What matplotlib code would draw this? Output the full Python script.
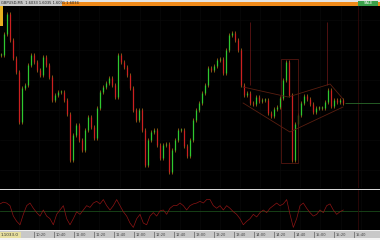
import matplotlib
matplotlib.use("Agg")
import matplotlib.pyplot as plt
import numpy as np
from matplotlib.patches import Rectangle

# closing prices, one per bar (chart points)
close = [145, 166, 186, 160, 142, 128, 78, 112, 115, 135,
         145, 138, 130, 125, 143, 135, 123, 100, 105, 108,
         108, 100, 86, 40, 65, 75, 60, 50, 70, 83,
         73, 62, 92, 108, 113, 117, 122, 115, 103, 145,
         138, 133, 125, 112, 90, 80, 90, 70, 35, 60,
         68, 70, 55, 42, 55, 56, 28, 50, 60, 70,
         70, 54, 44, 60, 80, 90, 97, 107, 115, 132,
         130, 134, 140, 141, 127, 150, 165, 167, 160, 150,
         115, 105, 107, 97, 96, 103, 99, 100, 100, 87,
         84, 91, 93, 102, 120, 138, 105, 40, 76, 85,
         97, 104, 101, 96, 88, 92, 92, 92, 98, 110,
         94, 100, 98, 100, 97]

# oscillator in the lower window
osc = [8, 10, 9, 6, -6, -12, -16, -4, 6, 9, 3, -2, -6, 1, -6, -9, -16, -4, 1, 6,
       -9, -16, -9, -1, -4, 1, 6, 4, 9, 11, 8, 13, 6, 1, 6, 13, 6, -1, -6, -14,
       -19, -9, -4, -14, -16, -6, -2, -6, 0, 1, -4, 3, 6, 6, 9, 6, 1, 6, 8, 9,
       11, 9, 13, 13, 6, 3, 6, 1, 6, 3, -1, -4, -9, -16, -12, -9, -4, -7, -2, 1,
       -2, 3, 6, 9, 6, 8, 13, -4, -19, -9, 6, 9, 3, -2, -6, -4, 1, -2, 6, 8,
       1, -4, -1, 1]

# drawing objects (bar index, price)
wedge_top_x = [80.7, 95.7, 109.7, 114.0]
wedge_top_y = [113, 103, 116, 101]
wedge_bot_x = [80.7, 96.3, 114.0]
wedge_bot_y = [97, 68, 93]
box_x = (93.3, 99.0)
box_y = (37, 141)
vline_x = [83.0, 108.7]
vline_y = (115, 178)
level_x0 = 114.7
level_y = 97
time_labels = ["10:20", "10:40", "11:00", "11:20", "11:40", "12:00", "12:20", "12:40",
               "13:00", "13:20", "13:40", "14:00", "14:20", "14:40", "15:00", "15:20", "15:40"]

W, H = 380, 240
fig = plt.figure(figsize=(W / 100, H / 100), dpi=100, facecolor="black")

def frac(y0, y1):
    return (H - y1) / H, (y1 - y0) / H

b, h = frac(6, 188)
ax = fig.add_axes([0, b, 1, h], facecolor="black")
b, h = frac(190, 230)
ax2 = fig.add_axes([0, b, 1, h], facecolor="black")

xlim = (-1 / 3, 379 / 3)
n = len(close)
x = np.arange(n)
opens = [close[0]] + close[:-1]

for a in (ax, ax2):
    a.set_xlim(*xlim)
    a.axis("off")
    for gx in np.arange(6, 126, 6.7):
        a.axvline(gx, color="#0b0b0b", lw=0.4, zorder=0)

ax.set_ylim(12, 194)
for gy in range(30, 194, 30):
    ax.axhline(gy, color="#0b0b0b", lw=0.4, zorder=0)

for i in range(n):
    o, c = opens[i], close[i]
    lo, hi = min(o, c), max(o, c)
    up = c >= o
    ax.vlines(x[i], lo - 2, hi + 2, color="#b8781c", lw=0.5, zorder=2)
    ax.vlines(x[i], lo, hi if hi > lo else lo + 1,
              color="#2fc82f" if up else "#cc2020", lw=0.9, zorder=3)

ax.plot(wedge_top_x, wedge_top_y, color="#5a1e10", lw=0.6, zorder=4)
ax.plot(wedge_bot_x, wedge_bot_y, color="#5a1e10", lw=0.6, zorder=4)
ax.add_patch(Rectangle((box_x[0], box_y[0]), box_x[1] - box_x[0], box_y[1] - box_y[0],
                       fill=False, ec="#561610", lw=0.6, zorder=4))
for vx in vline_x:
    ax.vlines(vx, vline_y[0], vline_y[1], color="#701818", lw=0.5, zorder=4)
ax.hlines(level_y, level_x0, xlim[1], color="#2a6a2a", lw=0.6, zorder=4)
ax.axvline(119, color="#300808", lw=0.6, zorder=1)

ax2.set_ylim(-22, 24)
ax2.axhline(0, color="#1a4a1a", lw=0.6, zorder=1)
ax2.axvline(119, color="#300808", lw=0.6, zorder=1)
osc_x = np.arange(len(osc)) * 10 / 9 - 1 / 3
ax2.plot(osc_x, osc, color="#8c1414", lw=0.5, zorder=3)

# white separator and frame bars
fig.add_artist(Rectangle((0, (H - 190) / H), 1, 1.2 / H, transform=fig.transFigure,
                         color="#d8d8d8", lw=0))
fig.add_artist(Rectangle((0, 0), 1, 10 / H, transform=fig.transFigure, color="#c8c8c8", lw=0))
fig.add_artist(Rectangle((0, 0), 1, 2 / H, transform=fig.transFigure, color="#f4f4f4", lw=0))
fig.add_artist(Rectangle((0, 9 / H), 1, 1 / H, transform=fig.transFigure, color="#eeeeee", lw=0))
fig.add_artist(Rectangle((0, 2 / H), 21 / W, 6 / H, transform=fig.transFigure,
                         color="#e8e0a0", lw=0))
fig.text(1 / W, 5 / H, "1.1033.0", fontsize=3, color="#303030", va="center")
for k, lab in enumerate(time_labels):
    px = 36 + 20 * k
    fig.text(px / W, 5 / H, lab, fontsize=2.6, color="#404040", va="center")
    fig.add_artist(Rectangle(((px - 2) / W, 2 / H), 0.6 / W, 6 / H,
                             transform=fig.transFigure, color="#808080", lw=0))

# top title bar
fig.add_artist(Rectangle((0, (H - 6) / H), 1, 6 / H, transform=fig.transFigure,
                         color="#e4e4e4", lw=0))
fig.add_artist(Rectangle((62 / W, (H - 5.5) / H), 1, 3.5 / H, transform=fig.transFigure,
                         color="#f08a1a", lw=0))
fig.add_artist(Rectangle((0, (H - 6) / H), 62 / W, 6 / H, transform=fig.transFigure,
                         color="#c8c8c8", lw=0))
fig.text(1 / W, (H - 3) / H, "GBPUSD,M5  1.6033 1.6035 1.6031 1.6034", fontsize=2.6,
         color="#202020", va="center")
fig.add_artist(Rectangle((358 / W, (H - 6) / H), 20 / W, 5 / H, transform=fig.transFigure,
                         color="#3aa04a", lw=0))
fig.text(368 / W, (H - 3.5) / H, "SALE", fontsize=2.6, color="white", va="center",
         ha="center")
fig.add_artist(Rectangle((0, (H - 26) / H), 3 / W, 20 / H, transform=fig.transFigure,
                         color="#e8b020", lw=0))

fig.savefig("out.png", dpi=100, facecolor="black")
